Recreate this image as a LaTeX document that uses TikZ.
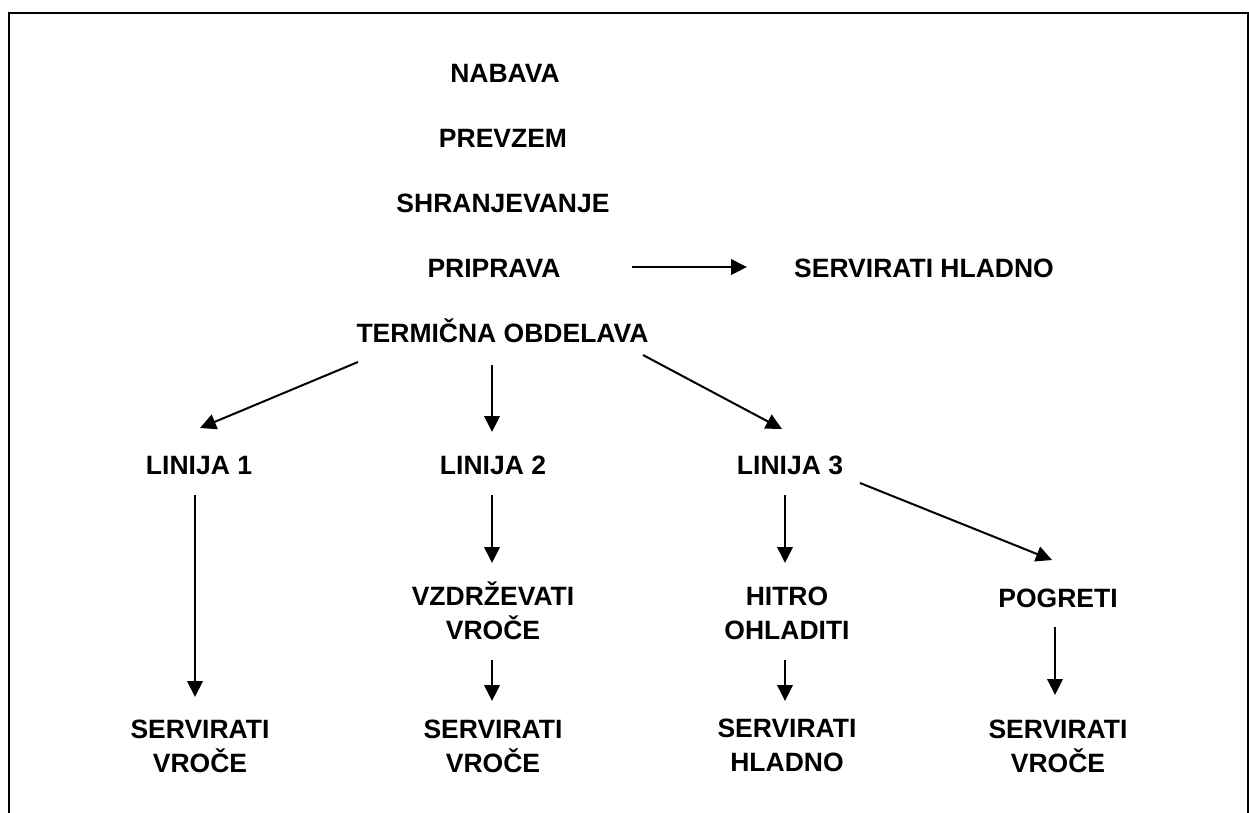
\documentclass[tikz,border=0pt]{standalone}
\usepackage{fontspec}
\setmainfont{Liberation Sans}[BoldFont={Liberation Sans Bold}]
\usetikzlibrary{arrows.meta}
\begin{document}
\begin{tikzpicture}[x=1pt,y=-1pt,
  lbl/.style={inner sep=0pt,anchor=base,align=center,
    font=\fontsize{26.5}{34}\selectfont\bfseries},
  arr/.style={line width=2pt,-{Triangle[length=16pt,width=15.5pt]}}]
  \useasboundingbox (0,0) rectangle (1249,812);
  \draw[line width=2pt] (9.3,12.5) rectangle (1247.8,840);

  % main sequence
  \node[lbl] (nab)  at (505,82)  {NABAVA};
  \node[lbl] (prev) at (503,147) {PREVZEM};
  \node[lbl] (shr)  at (503,212) {SHRANJEVANJE};
  \node[lbl] (prip) at (494,277) {PRIPRAVA};
  \node[lbl] (shl)  at (924,277) {SERVIRATI HLADNO};
  \node[lbl] (term) at (502.5,342) {TERMIČNA OBDELAVA};

  % lines
  \node[lbl] (lin1) at (199,474) {LINIJA 1};
  \node[lbl] (lin2) at (493,474) {LINIJA 2};
  \node[lbl] (lin3) at (790,474) {LINIJA 3};

  % intermediate steps (base = last line)
  \node[lbl] (vzd)  at (493,639) {VZDRŽEVATI\\VROČE};
  \node[lbl] (hit)  at (787,639) {HITRO\\OHLADITI};
  \node[lbl] (pog)  at (1058,607) {POGRETI};

  % serving
  \node[lbl] (s1) at (200,772)  {SERVIRATI\\VROČE};
  \node[lbl] (s2) at (493,772)  {SERVIRATI\\VROČE};
  \node[lbl] (s3) at (787,771)  {SERVIRATI\\HLADNO};
  \node[lbl] (s4) at (1058,772) {SERVIRATI\\VROČE};

  % connectors
  \draw[arr] ([xshift=138pt,yshift=10pt]prip.base) -- ([xshift=-177pt,yshift=10pt]shl.base);
  \draw[arr] ([xshift=-144.5pt,yshift=-20pt]term.base) -- ([xshift=1pt,yshift=46pt]lin1.base);
  \draw[arr] ([xshift=-10.5pt,yshift=-23pt]term.base) -- ([xshift=-1pt,yshift=42pt]lin2.base);
  \draw[arr] ([xshift=140.5pt,yshift=-13pt]term.base) -- ([xshift=-8pt,yshift=45pt]lin3.base);
  \draw[arr] ([xshift=-4pt,yshift=-21pt]lin1.base) -- ([xshift=-5pt,yshift=75pt]s1.base);
  \draw[arr] ([xshift=-1pt,yshift=-21pt]lin2.base) -- ([xshift=-1pt,yshift=76pt]vzd.base);
  \draw[arr] ([xshift=-1pt,yshift=-21pt]vzd.base) -- ([xshift=-1pt,yshift=71pt]s2.base);
  \draw[arr] ([xshift=-5pt,yshift=-21pt]lin3.base) -- ([xshift=-2pt,yshift=76pt]hit.base);
  \draw[arr] ([xshift=-2pt,yshift=-21pt]hit.base) -- ([xshift=-2pt,yshift=70pt]s3.base);
  \draw[arr] ([xshift=70pt,yshift=-9pt]lin3.base) -- ([xshift=-6pt,yshift=47pt]pog.base);
  \draw[arr] ([xshift=-3pt,yshift=-20pt]pog.base) -- ([xshift=-3pt,yshift=77pt]s4.base);
\end{tikzpicture}
\end{document}
